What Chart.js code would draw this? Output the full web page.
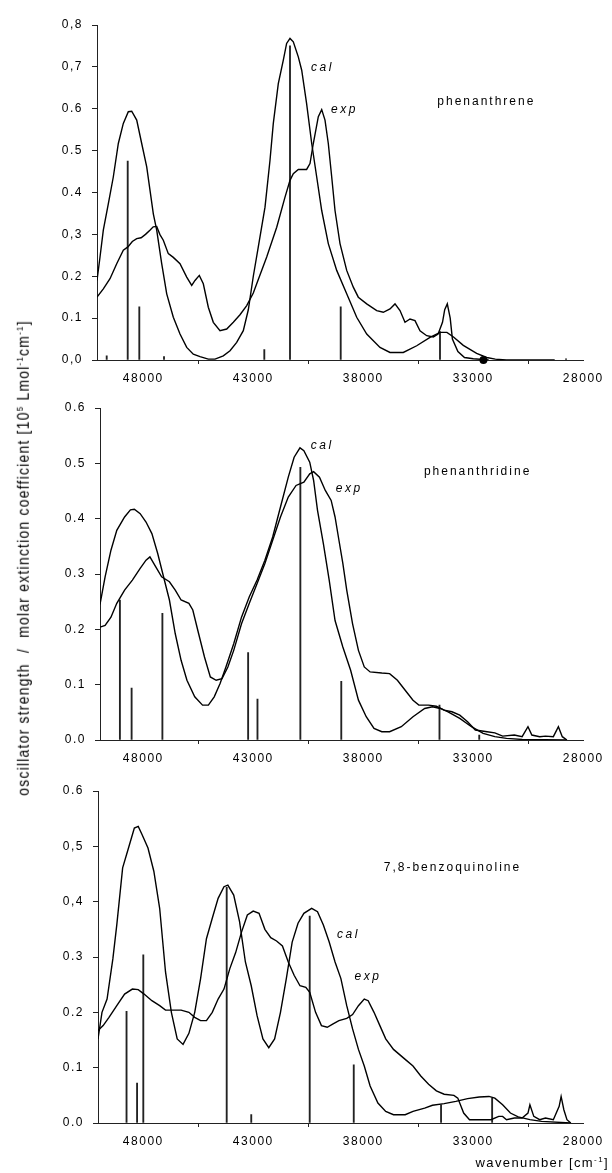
<!DOCTYPE html>
<html>
<head>
<meta charset="utf-8">
<script src="https://cdn.jsdelivr.net/npm/chart.js@4.4.0/dist/chart.umd.min.js"></script>
<style>
  html, body { margin: 0; padding: 0; background: #fff; }
  body { width: 612px; height: 1173px; position: relative; overflow: hidden;
         font-family: "Liberation Sans", Arial, sans-serif; color: #000; }
  canvas { position: absolute; left: 0; }
  #yTitle { position: absolute; left: 23px; top: 558px; white-space: pre;
            transform: translate(-50%, -50%) scale(1.15, 1) rotate(-90deg);
            font-size: 14px; letter-spacing: 1.2px; }
  #xTitle { position: absolute; right: 3px; top: 1155px; white-space: pre;
            font-size: 13px; letter-spacing: 1.4px; }
  sup { font-size: 8px; vertical-align: 5px; line-height: 0; }
</style>
</head>
<body>
<canvas id="c1" width="612" height="392" style="top:0px"></canvas>
<canvas id="c2" width="612" height="389" style="top:383px"></canvas>
<canvas id="c3" width="612" height="389" style="top:766px"></canvas>
<div id="yTitle">oscillator strength  /  molar extinction coefficient [10<sup>5</sup> Lmol<sup>-1</sup>cm<sup>-1</sup>]</div>
<div id="xTitle">wavenumber [cm<sup>-1</sup>]</div>

<script>
const FONT = '"Liberation Sans", Arial, sans-serif';

// shared wavenumber axis (cm-1), drawn high -> low
const xTickValues = [48000, 43000, 38000, 33000, 28000];
const xTickLabels = ['48000', '43000', '38000', '33000', '28000'];

// ---- phenanthrene ----
const phenYLabels = ['0,0', '0.1', '0.2', '0,3', '0.4', '0.5', '0.6', '0,7', '0,8'];
const phenCal = [[50105,0.19],[49968,0.246],[49818,0.31],[49591,0.373],[49364,0.437],[49136,0.517],[48909,0.565],[48682,0.593],[48527,0.594],[48300,0.573],[48073,0.517],[47845,0.461],[47695,0.405],[47545,0.349],[47391,0.31],[47164,0.23],[46936,0.158],[46636,0.102],[46332,0.062],[46027,0.03],[45727,0.014],[45423,0.008],[45045,0.002],[44741,0.002],[44364,0.01],[44059,0.022],[43755,0.042],[43455,0.07],[43227,0.12],[43000,0.2],[42773,0.27],[42468,0.365],[42241,0.477],[42091,0.565],[41864,0.66],[41636,0.716],[41486,0.756],[41332,0.768],[41182,0.76],[40955,0.724],[40800,0.692],[40577,0.612],[40345,0.517],[40118,0.437],[39891,0.357],[39591,0.278],[39209,0.214],[38755,0.158],[38300,0.102],[37845,0.062],[37241,0.03],[36786,0.018],[36182,0.018],[35573,0.034],[34968,0.054],[34514,0.066],[34200,0.066],[33900,0.055],[33455,0.035],[32848,0.016],[32391,0.006],[32000,0.002],[31500,0],[29300,0]];
const phenExp = [[50105,0.15],[49818,0.17],[49514,0.194],[49209,0.23],[48909,0.262],[48700,0.27],[48500,0.283],[48300,0.29],[48100,0.292],[47900,0.3],[47700,0.31],[47550,0.318],[47391,0.319],[47250,0.3],[47091,0.286],[46864,0.254],[46636,0.245],[46332,0.23],[46027,0.198],[45800,0.178],[45650,0.19],[45455,0.202],[45273,0.182],[45045,0.126],[44818,0.09],[44514,0.07],[44209,0.074],[43909,0.09],[43605,0.108],[43300,0.13],[43000,0.16],[42845,0.182],[42391,0.246],[41936,0.317],[41559,0.389],[41332,0.429],[41182,0.445],[40955,0.455],[40577,0.455],[40423,0.469],[40273,0.517],[40045,0.581],[39891,0.598],[39741,0.573],[39591,0.517],[39436,0.437],[39286,0.357],[39059,0.278],[38755,0.214],[38455,0.174],[38227,0.15],[37845,0.134],[37391,0.118],[37091,0.114],[36786,0.122],[36559,0.134],[36332,0.118],[36105,0.09],[35877,0.098],[35650,0.094],[35423,0.07],[35118,0.058],[34818,0.055],[34600,0.062],[34400,0.09],[34300,0.12],[34182,0.134],[34050,0.1],[33950,0.05],[33700,0.02],[33400,0.006],[33000,0.003],[32300,0]];
const phenSticks = [[49664,0.01],[48709,0.475],[48182,0.127],[47059,0.008],[42500,0.025],[41332,0.75],[39027,0.127],[34514,0.068],[28785,0.003]];
const phenDot = [[32538,0]];
const phenTexts = ['cal', 'exp', 'phenanthrene'];
const phenTextPos = [[40377,0.698],[39468,0.598],[34636,0.618]];

// ---- phenanthridine ----
const phdYLabels = ['0.0', '0.1', '0.2', '0.3', '0.4', '0.5', '0.6'];
const phdCal = [[49968,0.245],[49736,0.295],[49470,0.343],[49205,0.379],[48850,0.403],[48585,0.416],[48407,0.417],[48142,0.409],[47876,0.394],[47610,0.373],[47345,0.337],[47080,0.295],[46813,0.253],[46547,0.192],[46282,0.144],[46016,0.108],[45662,0.078],[45307,0.063],[45042,0.063],[44776,0.078],[44510,0.102],[44244,0.132],[43890,0.174],[43536,0.222],[43181,0.259],[42827,0.289],[42473,0.325],[42119,0.367],[41765,0.421],[41410,0.475],[41144,0.511],[40878,0.528],[40701,0.523],[40435,0.502],[40258,0.469],[40081,0.415],[39815,0.355],[39550,0.289],[39284,0.216],[38930,0.168],[38576,0.126],[38221,0.072],[37867,0.042],[37513,0.021],[37158,0.015],[36804,0.015],[36273,0.024],[35741,0.042],[35210,0.057],[34856,0.06],[34501,0.057],[34147,0.051],[33615,0.039],[33084,0.024],[32553,0.012],[32021,0.006],[31490,0.003],[30781,0.001],[28750,0]];
const phdExp = [[49968,0.204],[49736,0.207],[49470,0.222],[49205,0.247],[48850,0.271],[48496,0.289],[48142,0.31],[47876,0.325],[47699,0.331],[47433,0.313],[47167,0.295],[46813,0.286],[46547,0.271],[46282,0.253],[45927,0.247],[45750,0.235],[45484,0.192],[45219,0.15],[44953,0.114],[44687,0.108],[44422,0.111],[44156,0.132],[43890,0.162],[43536,0.21],[43181,0.247],[42827,0.283],[42473,0.319],[42119,0.361],[41765,0.403],[41410,0.439],[41056,0.46],[40701,0.466],[40435,0.481],[40258,0.485],[39992,0.475],[39727,0.451],[39461,0.433],[39284,0.403],[39107,0.361],[38930,0.319],[38753,0.271],[38487,0.21],[38221,0.162],[37956,0.132],[37690,0.123],[37158,0.121],[36804,0.12],[36450,0.108],[36096,0.09],[35741,0.072],[35475,0.063],[35032,0.063],[34678,0.061],[34324,0.054],[33970,0.051],[33615,0.045],[33261,0.033],[32907,0.018],[32375,0.015],[32021,0.013],[31667,0.007],[31135,0.009],[30781,0.006],[30515,0.024],[30338,0.009],[29983,0.006],[29717,0.007],[29362,0.006],[29132,0.024],[28955,0.006],[28744,0]];
const phdSticks = [[49063,0.253],[48531,0.094],[47132,0.229],[43235,0.158],[42810,0.074],[40861,0.493],[39001,0.106],[34537,0.063],[32730,0.009]];
const phdTexts = ['cal', 'exp', 'phenanthridine'];
const phdTextPos = [[40383,0.532],[39249,0.455],[35245,0.484]];

// ---- 7,8-benzoquinoline ----
const bzqYLabels = ['0.0', '0.1', '0.2', '0.3', '0,4', '0,5', '0.6'];
const bzqCal = [[50059,0.152],[49878,0.2],[49647,0.224],[49382,0.297],[49205,0.358],[48939,0.461],[48673,0.497],[48407,0.533],[48230,0.536],[48053,0.521],[47787,0.497],[47521,0.455],[47256,0.388],[46990,0.273],[46724,0.2],[46459,0.152],[46193,0.142],[45927,0.162],[45662,0.2],[45396,0.261],[45130,0.333],[44865,0.37],[44599,0.406],[44333,0.427],[44156,0.43],[43890,0.412],[43625,0.364],[43359,0.291],[43094,0.248],[42828,0.194],[42562,0.152],[42296,0.136],[42031,0.152],[41765,0.2],[41499,0.261],[41233,0.327],[40967,0.361],[40701,0.379],[40347,0.388],[40081,0.382],[39815,0.358],[39550,0.327],[39284,0.291],[39018,0.261],[38753,0.212],[38487,0.17],[38221,0.133],[37956,0.103],[37690,0.067],[37336,0.036],[36981,0.021],[36627,0.015],[36096,0.015],[35741,0.021],[35210,0.027],[34856,0.032],[34324,0.035],[33793,0.039],[33261,0.044],[32730,0.047],[32287,0.048],[32021,0.045],[31667,0.033],[31313,0.018],[30958,0.011],[30427,0.006],[29895,0.003],[28567,0]];
const bzqExp = [[50059,0.167],[49825,0.176],[49559,0.191],[49205,0.212],[48850,0.233],[48496,0.242],[48230,0.241],[47965,0.233],[47610,0.221],[47256,0.212],[46990,0.204],[46636,0.204],[46282,0.204],[45927,0.2],[45662,0.191],[45396,0.185],[45130,0.185],[44865,0.2],[44599,0.224],[44333,0.242],[44067,0.279],[43802,0.308],[43536,0.345],[43270,0.376],[43004,0.383],[42739,0.379],[42473,0.35],[42207,0.335],[41942,0.329],[41676,0.32],[41410,0.291],[41144,0.267],[40878,0.248],[40613,0.245],[40435,0.236],[40169,0.2],[39903,0.176],[39638,0.173],[39373,0.179],[39107,0.185],[38753,0.189],[38487,0.196],[38221,0.212],[37956,0.224],[37779,0.221],[37513,0.2],[37247,0.176],[36981,0.152],[36627,0.133],[36096,0.115],[35741,0.103],[35387,0.085],[35032,0.07],[34678,0.058],[34324,0.052],[33881,0.05],[33704,0.045],[33438,0.018],[33172,0.006],[32730,0.006],[32198,0.006],[31844,0.012],[31667,0.012],[31490,0.006],[31136,0.009],[30781,0.009],[30515,0.018],[30427,0.033],[30250,0.012],[29984,0.006],[29717,0.009],[29362,0.006],[29097,0.03],[29008,0.048],[28884,0.024],[28743,0.006],[28567,0]];
const bzqSticks = [[48762,0.202],[48283,0.072],[48000,0.304],[44209,0.426],[43093,0.015],[40436,0.374],[38434,0.105],[34466,0.033],[32144,0.045]];
const bzqTexts = ['cal', 'exp', '7,8-benzoquinoline'];
const bzqTextPos = [[39196,0.341],[38399,0.265],[37070,0.462]];

const toXY = pts => pts.map(([x, y]) => ({ x, y }));

// letter-spaced axis text and in-plot labels placed in data coordinates
const panelText = {
  id: 'panelText',
  beforeDraw(chart) {
    chart.ctx.letterSpacing = '1.5px';
  },
  afterDraw(chart, args, opts) {
    const { ctx, scales: { x, y } } = chart;
    ctx.save();
    ctx.fillStyle = '#000';
    ctx.textAlign = 'left';
    ctx.textBaseline = 'middle';
    opts.texts.forEach((t, i) => {
      const italic = i < 2;
      ctx.font = (italic ? 'italic ' : '') + '12px ' + FONT;
      ctx.letterSpacing = italic ? '2.5px' : '2px';
      ctx.fillText(t, x.getPixelForValue(opts.pos[i][0]), y.getPixelForValue(opts.pos[i][1]));
    });
    ctx.restore();
  }
};

function makePanel(id, p) {
  const datasets = [
    { type: 'bar', data: toXY(p.sticks), backgroundColor: '#222', barThickness: 1.2, borderWidth: 0, order: 3 },
    { type: 'line', data: toXY(p.cal), borderColor: '#000', borderWidth: 1.4, pointRadius: 0, tension: 0, fill: false, order: 1 },
    { type: 'line', data: toXY(p.exp), borderColor: '#000', borderWidth: 1.4, pointRadius: 0, tension: 0, fill: false, order: 2 }
  ];
  if (p.dot) {
    datasets.push({ type: 'scatter', data: toXY(p.dot), pointRadius: 4, backgroundColor: '#000', borderWidth: 0, clip: false, order: 0 });
  }
  return new Chart(document.getElementById(id), {
    type: 'line',
    data: { datasets },
    options: {
      responsive: false,
      animation: false,
      events: [],
      layout: { padding: { top: 25, left: p.padLeft, right: 28.7, bottom: 2 } },
      plugins: {
        legend: { display: false },
        tooltip: { enabled: false },
        panelText: { texts: p.texts, pos: p.textPos }
      },
      scales: {
        x: {
          type: 'linear',
          reverse: true,
          min: 28000,
          max: p.xMax,
          offset: false,
          afterBuildTicks: s => { s.ticks = xTickValues.map(v => ({ value: v })); },
          afterFit: s => { s.height = 30; },
          ticks: {
            autoSkip: false, maxRotation: 0, padding: 7, color: '#000',
            font: { family: FONT, size: 12 },
            callback: (v, i) => xTickLabels[i]
          },
          grid: { drawOnChartArea: false, tickLength: 4, color: '#222', lineWidth: 1 },
          border: { color: '#222', width: 1 }
        },
        y: {
          min: 0,
          max: p.yMax,
          afterFit: s => { s.width = 40; },
          ticks: {
            stepSize: 0.1, padding: 9, color: '#000',
            font: { family: FONT, size: 12 },
            callback: (v, i) => p.yLabels[i]
          },
          grid: { drawOnChartArea: false, tickLength: 5, color: '#222', lineWidth: 1 },
          border: { color: '#222', width: 1 }
        }
      }
    },
    plugins: [panelText]
  });
}

makePanel('c1', { cal: phenCal, exp: phenExp, sticks: phenSticks, dot: phenDot, texts: phenTexts, textPos: phenTextPos,
  yLabels: phenYLabels, yMax: 0.8, xMax: 50105, padLeft: 57 });
makePanel('c2', { cal: phdCal, exp: phdExp, sticks: phdSticks, texts: phdTexts, textPos: phdTextPos,
  yLabels: phdYLabels, yMax: 0.6, xMax: 49968, padLeft: 60 });
makePanel('c3', { cal: bzqCal, exp: bzqExp, sticks: bzqSticks, texts: bzqTexts, textPos: bzqTextPos,
  yLabels: bzqYLabels, yMax: 0.6, xMax: 50059, padLeft: 58 });
</script>
</body>
</html>
